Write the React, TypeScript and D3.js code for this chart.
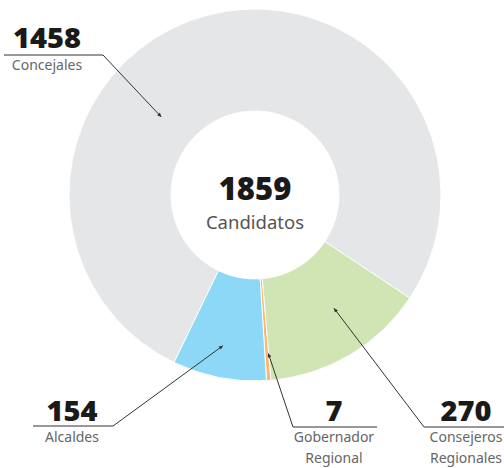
import React from "react";
import * as d3 from "d3";

const categories = ["Concejales", "Consejeros Regionales", "Gobernador Regional", "Alcaldes"];
const values = [1458, 270, 7, 154];
const labelLines = [["Concejales"], ["Consejeros", "Regionales"], ["Gobernador", "Regional"], ["Alcaldes"]];
const totalLabel = "1859";
const totalCaption = "Candidatos";
const colors = ["#e5e6e8", "#d1e4b3", "#fbb76d", "#8ed8f7"];

// layout (positions) kept separate from data
const W = 504, H = 468;
const cx = 255, cy = 195, R = 186, r = 84;
const startDeg = -154.2;
// annotation layout: tip in polar (deg, radius), label anchor/underline
const annot = [
  { tipDeg: -50.2, tipR: 122, ux0: 4, ux1: 103, uy: 55, tx: 47, numY: 48, capY: 70, elbow: "right" },
  { tipDeg: 145.1, tipR: 138, ux0: 424, ux1: 510, uy: 427, tx: 466, numY: 421, capY: 442, elbow: "left" },
  { tipDeg: 175.2, tipR: 159, ux0: 293, ux1: 377, uy: 427, tx: 334, numY: 421, capY: 442, elbow: "left" },
  { tipDeg: 192, tipR: 154, ux0: 33, ux1: 113, uy: 426, tx: 72, numY: 421, capY: 442, elbow: "right" },
];

export default function App() {
  const pie = d3
    .pie<number>()
    .sort(null)
    .value((d) => d)
    .startAngle((startDeg * Math.PI) / 180)
    .endAngle(((startDeg + 360) * Math.PI) / 180);
  const arcs = pie(values);
  const arcGen = d3.arc<d3.PieArcDatum<number>>().innerRadius(r).outerRadius(R);

  const numFont = "'Noto Sans', 'Open Sans', sans-serif";
  const txtFont = "'Noto Sans', 'Open Sans', sans-serif";

  return (
    <svg
      width={W}
      height={H}
      style={{ position: "absolute", left: 0, top: 0 }}
      viewBox={`0 0 ${W} ${H}`}
    >
      <defs>
        <marker
          id="arrow"
          viewBox="0 0 10 10"
          refX="10"
          refY="5"
          markerWidth="6"
          markerHeight="4"
          orient="auto"
          markerUnits="userSpaceOnUse"
        >
          <path d="M0,0 L10,5 L0,10 z" fill="#333" />
        </marker>
      </defs>
      <g transform={`translate(${cx},${cy})`}>
        {arcs.map((a, i) => (
          <path key={categories[i]} d={arcGen(a) || ""} fill={colors[i]} stroke="#fff" strokeWidth={1} />
        ))}
        <text
          x={0}
          y={5}
          textAnchor="middle"
          fontFamily={numFont}
          fontWeight={900}
          fontSize={31}
          fill="#1a1a1a"
        >
          {totalLabel}
        </text>
        <text x={0} y={34} textAnchor="middle" fontFamily={txtFont} fontSize={18.5} fill="#555">
          {totalCaption}
        </text>
      </g>
      {annot.map((a, i) => {
        const [px, py] = d3.pointRadial((a.tipDeg * Math.PI) / 180, a.tipR);
        const tip: [number, number] = [cx + px, cy + py];
        const elbowX = a.elbow === "right" ? a.ux1 : a.ux0;
        const line = d3.line()([
          [a.elbow === "right" ? a.ux0 : a.ux1, a.uy],
          [elbowX, a.uy],
          tip,
        ]);
        return (
          <g key={categories[i]}>
            <path d={line || ""} fill="none" stroke="#333" strokeWidth={1} markerEnd="url(#arrow)" />
            <text
              x={a.tx}
              y={a.numY}
              textAnchor="middle"
              fontFamily={numFont}
              fontWeight={900}
              fontSize={29}
              fill="#1a1a1a"
            >
              {values[i]}
            </text>
            {labelLines[i].map((l, j) => (
              <text
                key={l}
                x={a.tx}
                y={a.capY + j * 21}
                textAnchor="middle"
                fontFamily={txtFont}
                fontSize={14}
                fill="#666"
              >
                {l}
              </text>
            ))}
          </g>
        );
      })}
    </svg>
  );
}
